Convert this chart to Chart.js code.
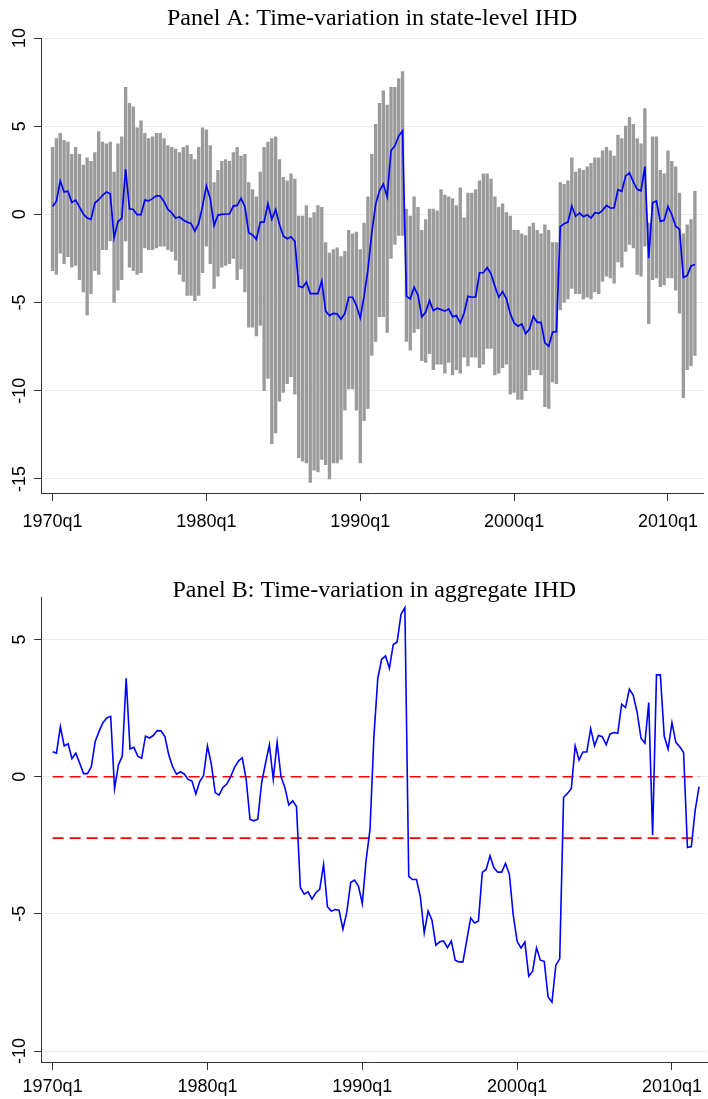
<!DOCTYPE html>
<html>
<head>
<meta charset="utf-8">
<script src="https://cdn.jsdelivr.net/npm/chart.js@4"></script>
<style>
body { margin: 0; background: #fff; }
#panelA { position: absolute; left: 0; top: 0; }
#panelB { position: absolute; left: 0; top: 550px; }
</style>
</head>
<body>
<canvas id="panelA" width="708" height="545"></canvas>
<canvas id="panelB" width="708" height="549"></canvas>
<script>
// quarterly, 1970q1 .. 2011q4 (168 quarters)
var lowA = [
  -3.2, -3.4, -2.2, -2.8, -2.4, -3.0, -2.9, -3.7, -4.4, -5.7,
  -4.5, -3.2, -3.4, -2.0, -2.0, -1.5, -5.0, -4.3, -3.7, -1.5,
  -3.0, -3.2, -3.4, -3.3, -1.9, -2.0, -2.0, -1.9, -1.8, -1.8,
  -2.0, -2.1, -2.6, -3.4, -3.8, -4.6, -4.6, -4.9, -4.6, -3.3,
  -1.8, -2.8, -4.2, -3.5, -3.0, -2.9, -2.8, -2.5, -3.7, -3.1,
  -4.4, -6.4, -6.4, -6.9, -6.3, -10.0, -9.3, -13.0, -12.4, -10.6,
  -10.1, -9.6, -9.2, -10.2, -13.8, -14.0, -14.1, -15.2, -14.5, -14.6,
  -13.9, -14.2, -15.0, -14.1, -14.1, -13.9, -11.1, -9.9, -9.9, -11.1,
  -14.1, -11.7, -11.0, -8.0, -7.2, -5.8, -5.8, -6.7, -2.5, -1.7,
  -1.2, -1.2, -7.2, -7.7, -6.7, -6.5, -8.3, -8.4, -7.9, -8.8,
  -8.5, -8.5, -9.0, -8.4, -9.1, -8.8, -9.0, -8.1, -8.6, -8.1,
  -8.1, -8.7, -8.5, -7.6, -7.6, -9.1, -9.0, -8.7, -8.5, -10.2,
  -10.1, -10.5, -10.5, -10.0, -9.1, -8.8, -8.8, -9.1, -10.9, -11.0,
  -9.5, -9.6, -5.4, -5.0, -4.8, -4.2, -4.5, -4.5, -4.8, -4.7,
  -4.8, -4.4, -4.5, -3.8, -3.5, -3.6, -3.9, -2.7, -3.0, -2.1,
  -1.7, -1.9, -3.4, -3.5, -1.8, -6.2, -3.7, -3.6, -4.1, -4.0,
  -3.6, -3.6, -4.3, -5.6, -10.4, -8.8, -8.6, -8.0
];
var highA = [
  3.8, 4.3, 4.6, 4.2, 4.1, 3.4, 3.8, 3.4, 2.8, 3.2,
  3.0, 3.5, 4.7, 4.1, 4.0, 4.1, 2.4, 4.0, 4.4, 7.2,
  6.3, 6.1, 4.9, 5.3, 4.6, 4.3, 4.4, 4.6, 4.6, 4.3,
  3.9, 3.8, 3.7, 3.5, 3.8, 3.9, 3.4, 3.1, 3.8, 4.9,
  4.8, 3.9, 1.8, 2.5, 3.0, 3.1, 3.0, 3.5, 3.8, 3.3,
  3.4, 1.8, 1.4, 1.0, 2.4, 3.8, 4.1, 4.3, 4.4, 3.1,
  2.1, 1.9, 2.3, 2.0, -0.1, -0.1, 0.5, -0.2, 0.1, 0.5,
  0.4, -1.6, -2.2, -2.0, -1.9, -2.4, -2.1, -0.9, -1.1, -1.0,
  -2.0, -0.5, 1.0, 3.4, 5.1, 6.3, 7.0, 6.2, 7.2, 7.2,
  7.7, 8.1, 0.3, -0.1, 1.0, 0.4, -0.9, -0.3, 0.3, 0.3,
  0.2, 1.4, 1.1, 1.0, 0.9, 0.5, 1.5, -0.2, 1.2, 1.2,
  1.4, 1.9, 2.3, 2.3, 2.0, 1.0, 0.4, 0.6, 0.1, -0.1,
  -0.9, -0.9, -1.1, -1.2, -0.7, -0.5, -0.9, -1.1, -0.6, -0.9,
  -1.6, -1.6, 1.8, 1.7, 1.9, 3.2, 2.4, 2.6, 2.5, 2.7,
  2.9, 3.2, 3.2, 3.6, 3.8, 3.6, 3.3, 4.5, 4.3, 5.0,
  5.5, 5.1, 4.3, 4.0, 6.0, -0.5, 4.4, 4.4, 2.5, 2.3,
  3.6, 3.0, 2.7, 1.2, -1.1, -0.6, -0.3, 1.3
];
var medA = [
  0.45, 0.74, 1.89, 1.27, 1.31, 0.68, 0.81, 0.42, 0.02, -0.21,
  -0.28, 0.64, 0.83, 1.08, 1.27, 1.17, -1.33, -0.42, -0.21, 2.56,
  0.32, 0.28, -0.02, -0.02, 0.81, 0.76, 0.89, 1.06, 1.04, 0.72,
  0.28, 0.08, -0.21, -0.15, -0.32, -0.44, -0.51, -0.95, -0.51, 0.47,
  1.61, 0.89, -0.63, -0.04, 0, 0.02, 0.02, 0.47, 0.51, 0.91,
  0.44, -1.04, -1.17, -1.42, -0.44, -0.44, 0.61, -0.28, 0.27, -0.57,
  -1.23, -1.38, -1.27, -1.53, -4.07, -4.15, -3.84, -4.49, -4.49, -4.49,
  -3.77, -5.49, -5.74, -5.61, -5.64, -5.95, -5.61, -4.70, -4.70, -5.17,
  -5.87, -4.64, -3.13, -1.04, 0.57, 1.34, 1.72, 1.00, 3.62, 3.88,
  4.45, 4.73, -4.64, -4.79, -4.13, -4.58, -5.81, -5.55, -4.89, -5.45,
  -5.32, -5.40, -5.49, -5.36, -5.81, -5.74, -6.16, -5.59, -4.64, -4.70,
  -4.68, -3.31, -3.31, -3.01, -3.37, -4.07, -4.70, -4.38, -4.79, -5.63,
  -6.16, -6.34, -6.21, -6.76, -6.50, -5.78, -6.12, -6.12, -7.29, -7.48,
  -6.67, -6.65, -0.70, -0.53, -0.44, 0.47, -0.11, 0.08, -0.13, -0.02,
  -0.21, 0.09, 0.06, 0.23, 0.51, 0.36, 0.36, 1.40, 1.31, 2.18,
  2.35, 1.84, 1.42, 1.34, 2.71, -2.48, 0.66, 0.76, -0.40, -0.34,
  0.45, -0.02, -0.66, -0.85, -3.58, -3.47, -2.92, -2.84
];
var aggB = [
  0.91, 0.86, 1.82, 1.12, 1.20, 0.66, 0.86, 0.49, 0.11, 0.11,
  0.36, 1.28, 1.65, 1.97, 2.14, 2.20, -0.43, 0.43, 0.75, 3.59,
  1.01, 1.07, 0.75, 0.67, 1.48, 1.41, 1.50, 1.68, 1.67, 1.46,
  0.80, 0.36, 0.09, 0.18, 0.10, -0.10, -0.16, -0.63, -0.18, 0.04,
  1.12, 0.46, -0.58, -0.67, -0.39, -0.27, 0, 0.34, 0.57, 0.69,
  -0.10, -1.56, -1.61, -1.55, -0.22, 0.49, 1.16, -0.09, 1.25, 0,
  -0.39, -1.03, -0.88, -1.09, -4.04, -4.28, -4.20, -4.46, -4.23, -4.11,
  -3.20, -4.74, -4.90, -4.84, -4.87, -5.56, -4.94, -3.86, -3.77, -3.99,
  -4.62, -3.02, -1.91, 1.46, 3.58, 4.28, 4.40, 3.95, 4.82, 4.91,
  5.92, 6.16, -3.63, -3.75, -3.75, -4.38, -5.69, -4.90, -5.23, -6.14,
  -6.02, -5.99, -6.23, -5.99, -6.69, -6.75, -6.75, -5.96, -5.15, -5.33,
  -5.26, -3.49, -3.38, -2.88, -3.32, -3.48, -3.48, -3.16, -3.56, -5.05,
  -6.00, -6.24, -6.03, -7.27, -7.09, -6.24, -6.69, -6.73, -8.03, -8.22,
  -6.87, -6.64, -0.75, -0.61, -0.43, 1.12, 0.61, 0.90, 0.90, 1.75,
  1.13, 1.50, 1.46, 1.17, 1.56, 1.61, 1.58, 2.64, 2.52, 3.19,
  2.97, 2.35, 1.40, 1.22, 2.70, -2.13, 3.71, 3.71, 1.48, 1.01,
  1.97, 1.25, 1.09, 0.88, -2.58, -2.55, -1.22, -0.36
];
var zeroB = 0;
var meanB = -2.24;

var xTickIdx = [0, 40, 80, 120, 160];
var xTickLabels = ["1970q1", "1980q1", "1990q1", "2000q1", "2010q1"];
var yTicksA = [-15, -10, -5, 0, 5, 10];
var yTicksB = [-10, -5, 0, 5];

function pts(arr) {
  return arr.map(function (v, i) { return {x: i, y: v}; });
}
function hline(v) {
  return [{x: 0, y: v}, {x: aggB.length - 1, y: v}];
}

var panelTitle = {
  id: 'panelTitle',
  afterDraw: function (chart, args, opts) {
    var ctx = chart.ctx, a = chart.chartArea;
    ctx.save();
    ctx.font = '24px "Liberation Serif"';
    ctx.fillStyle = '#000';
    ctx.textAlign = 'center';
    ctx.textBaseline = 'alphabetic';
    ctx.fillText(opts.text, (a.left + a.right) / 2, opts.y);
    ctx.restore();
  }
};

function xScale(h, pad) {
  return {
    type: 'linear', min: -3, max: 169.2, offset: false,
    afterBuildTicks: function (s) { s.ticks = xTickIdx.map(function (v) { return {value: v}; }); },
    afterFit: function (s) { s.height = h; },
    grid: { drawOnChartArea: false, offset: false, tickLength: 8, tickColor: '#333', lineWidth: 1 },
    border: { color: '#333', width: 1 },
    ticks: {
      color: '#000', font: {family: 'Liberation Sans', size: 18}, padding: pad,
      maxRotation: 0, autoSkip: false,
      callback: function (v) { return xTickLabels[xTickIdx.indexOf(v)]; }
    }
  };
}
function yScale(min, max, ticks) {
  return {
    min: min, max: max,
    afterBuildTicks: function (s) { s.ticks = ticks.map(function (v) { return {value: v}; }); },
    afterFit: function (s) { s.width = 41; },
    grid: { color: '#e6eef0', tickColor: '#333', tickLength: 7, lineWidth: 1 },
    border: { color: '#333', width: 1 },
    ticks: {
      color: '#000', font: {family: 'Liberation Sans', size: 18},
      minRotation: 90, maxRotation: 90, crossAlign: 'center', padding: 1, autoSkip: false
    }
  };
}

new Chart(document.getElementById('panelA'), {
  type: 'bar',
  data: {
    datasets: [{
      type: 'line', order: 0,
      data: pts(medA),
      borderColor: '#0000ff', borderWidth: 1.7, pointRadius: 0, tension: 0
    }, {
      type: 'bar', order: 1,
      data: lowA.map(function (v, i) { return {x: i, y: [v, highA[i]]}; }),
      backgroundColor: '#9b9b9b', borderWidth: 0, barThickness: 2.7
    }]
  },
  options: {
    responsive: false, devicePixelRatio: 1, animation: false,
    layout: { padding: {top: 38, left: 0, right: 0, bottom: 0} },
    plugins: {
      legend: {display: false}, tooltip: {enabled: false},
      panelTitle: {text: 'Panel A: Time-variation in state-level IHD', y: 25}
    },
    scales: { x: xScale(52, 10), y: yScale(-15.8, 10, yTicksA) }
  },
  plugins: [panelTitle]
});

new Chart(document.getElementById('panelB'), {
  type: 'line',
  data: {
    datasets: [{
      data: pts(aggB),
      borderColor: '#0000ff', borderWidth: 1.6, pointRadius: 0, tension: 0
    }, {
      data: hline(zeroB),
      borderColor: '#ff0000', borderWidth: 1.6, borderDash: [11, 6], pointRadius: 0
    }, {
      data: hline(meanB),
      borderColor: '#ff0000', borderWidth: 1.6, borderDash: [11, 6], pointRadius: 0
    }]
  },
  options: {
    responsive: false, devicePixelRatio: 1, animation: false,
    layout: { padding: {top: 47, left: 0, right: 0, bottom: 0} },
    plugins: {
      legend: {display: false}, tooltip: {enabled: false},
      panelTitle: {text: 'Panel B: Time-variation in aggregate IHD', y: 47}
    },
    scales: { x: xScale(37, 6), y: yScale(-10.4, 6.55, yTicksB) }
  },
  plugins: [panelTitle]
});
</script>
</body>
</html>
